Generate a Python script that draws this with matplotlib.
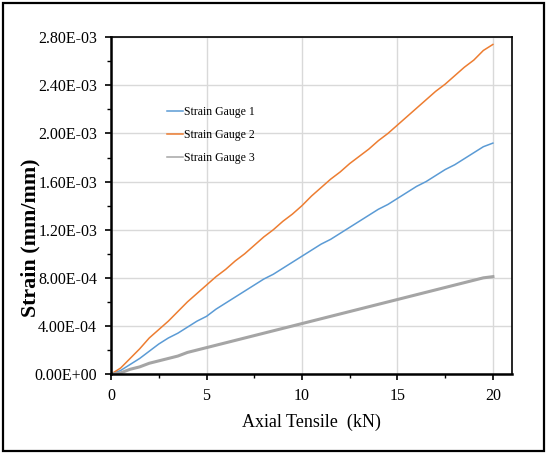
import numpy as np
import matplotlib.pyplot as plt
from matplotlib.ticker import MultipleLocator, FuncFormatter
from matplotlib.patches import Rectangle

# load steps (kN) and strain readings (x1e-3 mm/mm)
load = [i * 0.5 for i in range(41)]
gauge1 = [0, 0.03, 0.08, 0.13, 0.19, 0.25, 0.30, 0.34, 0.39, 0.44, 0.48,
          0.54, 0.59, 0.64, 0.69, 0.74, 0.79, 0.83, 0.88, 0.93, 0.98,
          1.03, 1.08, 1.12, 1.17, 1.22, 1.27, 1.32, 1.37, 1.41, 1.46,
          1.51, 1.56, 1.60, 1.65, 1.70, 1.74, 1.79, 1.84, 1.89, 1.92]
gauge2 = [0, 0.05, 0.13, 0.21, 0.30, 0.37, 0.44, 0.52, 0.60, 0.67, 0.74,
          0.81, 0.87, 0.94, 1.00, 1.07, 1.14, 1.20, 1.27, 1.33, 1.40,
          1.48, 1.55, 1.62, 1.68, 1.75, 1.81, 1.87, 1.94, 2.00, 2.07,
          2.14, 2.21, 2.28, 2.35, 2.41, 2.48, 2.55, 2.61, 2.69, 2.74]
gauge3 = [0, 0.01, 0.04, 0.06, 0.09, 0.11, 0.13, 0.15, 0.18, 0.20, 0.22,
          0.24, 0.26, 0.28, 0.30, 0.32, 0.34, 0.36, 0.38, 0.40, 0.42,
          0.44, 0.46, 0.48, 0.50, 0.52, 0.54, 0.56, 0.58, 0.60, 0.62,
          0.64, 0.66, 0.68, 0.70, 0.72, 0.74, 0.76, 0.78, 0.80, 0.81]
labels = ['Strain Gauge 1', 'Strain Gauge 2', 'Strain Gauge 3']

plt.rcParams['font.family'] = ['Liberation Serif', 'DejaVu Serif']

fig = plt.figure(figsize=(5.47, 4.54), dpi=100)
ax = fig.add_axes([0.203, 0.176, 0.733, 0.742])

x = np.array(load)
ax.plot(x, np.array(gauge1) * 1e-3, color='#5B9BD5', lw=1.1, label=labels[0])
ax.plot(x, np.array(gauge2) * 1e-3, color='#ED7D31', lw=1.1, label=labels[1])
ax.plot(x, np.array(gauge3) * 1e-3, color='#A5A5A5', lw=2.2, label=labels[2])

ax.set_xlim(0, 21)
ax.set_ylim(0, 2.8e-3)
ax.xaxis.set_major_locator(MultipleLocator(5))
ax.xaxis.set_minor_locator(MultipleLocator(2.5))
ax.yaxis.set_major_locator(MultipleLocator(4e-4))
ax.yaxis.set_minor_locator(MultipleLocator(2e-4))
ax.yaxis.set_major_formatter(FuncFormatter(lambda v, p: '{:.2E}'.format(v)))

ax.grid(True, which='major', color='#D9D9D9', lw=1.0)
ax.set_axisbelow(True)
ax.tick_params(which='major', direction='out', length=4, width=1.2, labelsize=11.5, pad=6)
ax.tick_params(which='minor', direction='out', length=3, width=1.0)
for s in ax.spines.values():
    s.set_linewidth(1.2)
ax.spines['left'].set_linewidth(1.8)
ax.spines['bottom'].set_linewidth(1.8)

ax.set_xlabel('Axial Tensile  (kN)', fontsize=13, labelpad=7)
ax.set_ylabel('Strain (mm/mm)', fontsize=15.8, fontweight='bold')
ax.yaxis.set_label_coords(-0.175, 0.405)

leg = ax.legend(loc='upper left', bbox_to_anchor=(0.1125, 0.826), frameon=False,
                fontsize=8.5, handlelength=1.35, handletextpad=0.1, labelspacing=0.9)
for line in leg.get_lines():
    line.set_linewidth(1.1)

fig.patches.append(Rectangle((0.006, 0.006), 0.988, 0.988, transform=fig.transFigure,
                             fill=False, edgecolor='black', lw=1.6))

fig.savefig('out.png', dpi=100)
